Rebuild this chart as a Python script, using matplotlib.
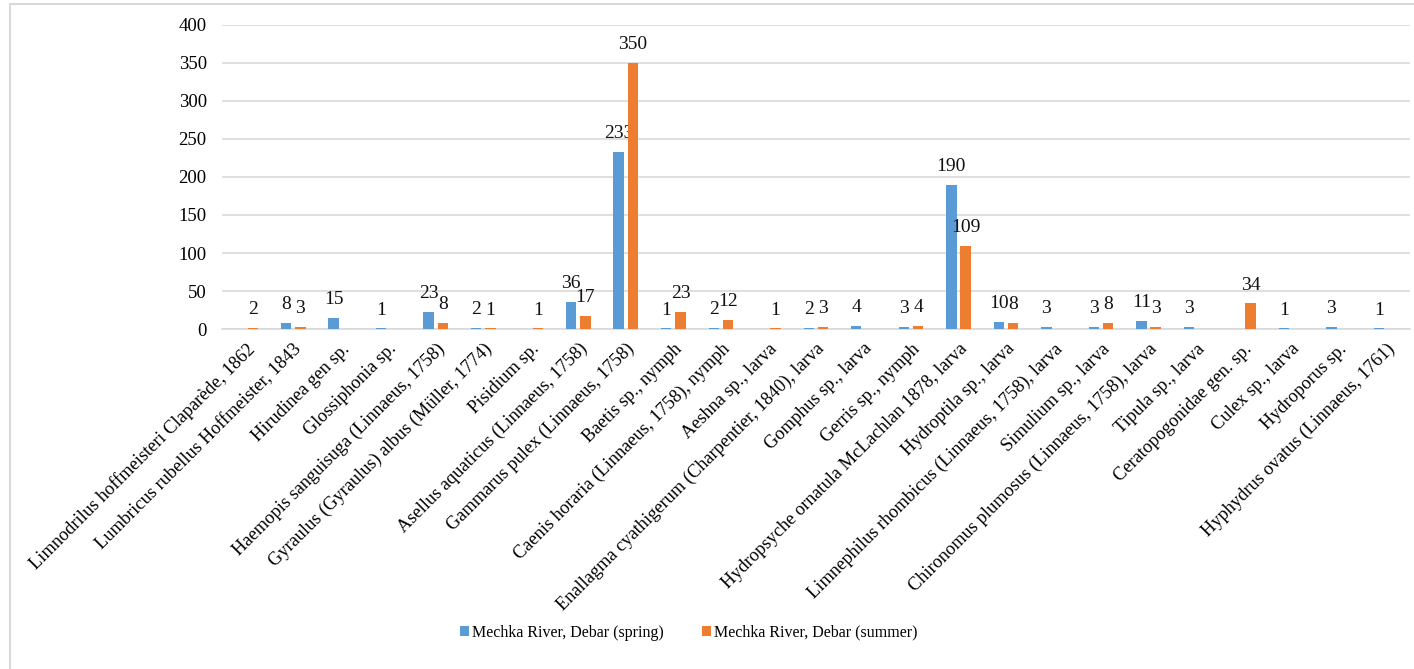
import matplotlib
matplotlib.use("Agg")
import matplotlib.pyplot as plt
from matplotlib.lines import Line2D
import numpy as np

plt.rcParams["font.family"] = ["Liberation Serif", "DejaVu Serif"]

taxa = [
    "Limnodrilus hoffmeisteri Claparède, 1862",
    "Lumbricus rubellus Hoffmeister, 1843",
    "Hirudinea gen sp.",
    "Glossiphonia sp.",
    "Haemopis sanguisuga (Linnaeus, 1758)",
    "Gyraulus (Gyraulus) albus (Müller, 1774)",
    "Pisidium sp.",
    "Asellus aquaticus (Linnaeus, 1758)",
    "Gammarus pulex (Linnaeus, 1758)",
    "Baetis sp., nymph",
    "Caenis horaria (Linnaeus, 1758), nymph",
    "Aeshna sp., larva",
    "Enallagma cyathigerum (Charpentier, 1840), larva",
    "Gomphus sp., larva",
    "Gerris sp., nymph",
    "Hydropsyche ornatula McLachlan 1878, larva",
    "Hydroptila sp., larva",
    "Limnephilus rhombicus (Linnaeus, 1758), larva",
    "Simulium sp., larva",
    "Chironomus plumosus (Linnaeus, 1758), larva",
    "Tipula sp., larva",
    "Ceratopogonidae gen. sp.",
    "Culex sp., larva",
    "Hydroporus sp.",
    "Hyphydrus ovatus (Linnaeus, 1761)",
]

# 0 = taxon not recorded in that season (no bar, no label)
spring = [0, 8, 15, 1, 23, 2, 0, 36, 233, 1, 2, 0, 2, 4, 3, 190, 10, 3, 3, 11, 3, 0, 1, 3, 1]
summer = [2, 3, 0, 0, 8, 1, 1, 17, 350, 23, 12, 1, 3, 0, 4, 109, 8, 0, 8, 3, 0, 34, 0, 0, 0]

series_names = ["Mechka River, Debar (spring)", "Mechka River, Debar (summer)"]
colors = ["#5B9BD5", "#ED7D31"]

fig = plt.figure(figsize=(14.14, 6.69), dpi=100)
ax = fig.add_axes([0.157, 0.508, 0.840, 0.455])

x = np.arange(len(taxa))
w = 0.22
off = 0.15
handles = []
for vals, dx, col, name in zip([spring, summer], [-off, off], colors, series_names):
    v = np.array(vals, dtype=float)
    bars = ax.bar(x + dx, v, width=w, color=col, label=name, zorder=3)
    handles.append(bars)
    for xi, val in zip(x + dx, vals):
        if val == 0:
            continue
        ax.annotate(str(val), (xi, val), xytext=(0, 7), textcoords="offset points",
                    ha="center", va="bottom", fontsize=14, color="#111111")

ax.set_xlim(-0.5, len(taxa) - 0.5)
ax.set_ylim(0, 400)
ax.set_yticks(np.arange(0, 401, 50))
ax.grid(True, axis="y", color="#D9D9D9", linewidth=1.2, zorder=0)
for s in ["top", "right", "left"]:
    ax.spines[s].set_visible(False)
ax.spines["bottom"].set_color("#D9D9D9")
ax.spines["bottom"].set_linewidth(1.2)
ax.tick_params(axis="y", length=0, pad=11, labelsize=13.5)
ax.tick_params(axis="x", length=0, pad=8)
ax.set_xticks(x)
ax.set_xticklabels(taxa, rotation=45, ha="right", va="top",
                   rotation_mode="anchor", fontsize=13.2)

fig.legend(handles, series_names, loc="center", bbox_to_anchor=(0.487, 0.054),
           ncol=2, frameon=False, fontsize=11.5, handlelength=0.6, handleheight=0.6,
           handletextpad=0.15, columnspacing=2.4)

# chart area border (left and top edges)
fig.add_artist(Line2D([0.0068, 0.0068], [0, 0.994], transform=fig.transFigure,
                      color="#D9D9D9", linewidth=1.5))
fig.add_artist(Line2D([0.0068, 1], [0.994, 0.994], transform=fig.transFigure,
                      color="#D9D9D9", linewidth=1.5))

fig.savefig("out.png", dpi=100)
